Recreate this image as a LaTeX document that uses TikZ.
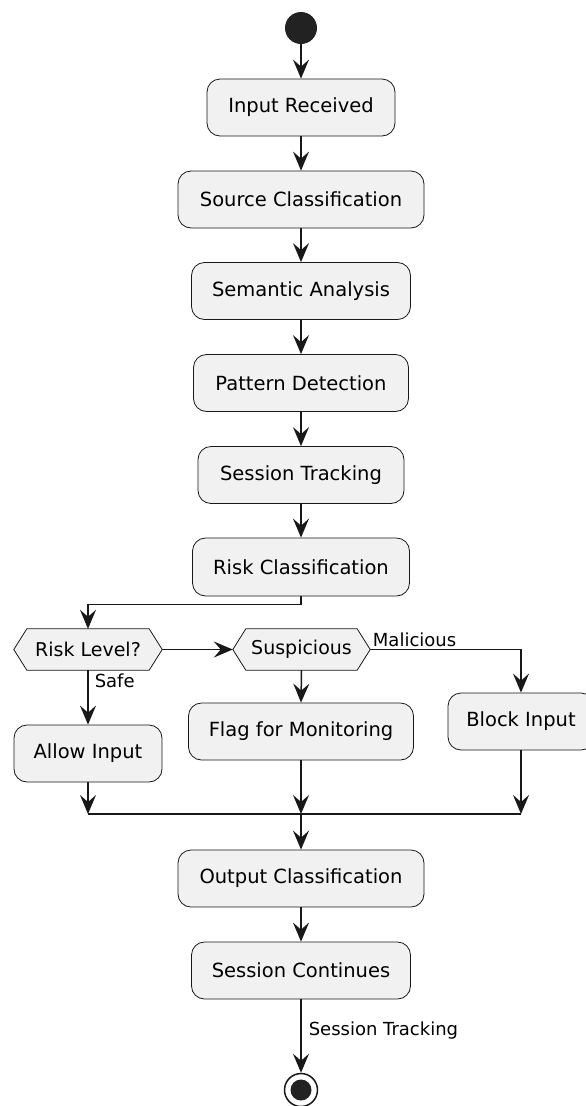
\documentclass[tikz,border=0pt]{standalone}
\usepackage{fontspec}
\setmainfont{DejaVu Sans}
\usetikzlibrary{arrows.meta,backgrounds}
\definecolor{boxfill}{HTML}{F1F1F1}
\definecolor{ink}{HTML}{181818}
\definecolor{dot}{HTML}{222222}
\tikzset{
  actbox/.style={draw=ink, line width=0.8pt, fill=boxfill, rounded corners=13pt,
    minimum height=57pt, inner xsep=4pt,
    font=\fontsize{19.5}{23}\selectfont},
  hexbox/.style={minimum height=41pt, inner sep=0pt,
    font=\fontsize{19}{22}\selectfont},
  hexline/.style={draw=ink, line width=0.8pt, fill=boxfill},
  flow/.style={draw=ink, line width=1.5pt,
    -{Stealth[length=19pt,width=16pt,inset=7pt]}},
  plain/.style={draw=ink, line width=1.5pt},
  lbl/.style={font=\fontsize{18}{21}\selectfont, inner sep=2pt},
}
\begin{document}
\begin{tikzpicture}[x=1pt,y=-1pt]
\useasboundingbox (0,0) rectangle (586,1106);

% start point
\node[circle, fill=dot, minimum size=32pt, inner sep=0pt] (start) at (301,28) {};

% main column of activities
\node[actbox, minimum width=188pt] (ir)   at (301,107.5) {Input Received};
\node[actbox, minimum width=246pt] (src)  at (301,199.5) {Source Classification};
\node[actbox, minimum width=219pt] (sem)  at (301,291)   {Semantic Analysis};
\node[actbox, minimum width=215pt] (pat)  at (301,383)   {Pattern Detection};
\node[actbox, minimum width=206pt] (sess) at (301,475)   {Session Tracking};
\node[actbox, minimum width=217pt, minimum height=58pt] (risk) at (301,567) {Risk Classification};

% decisions
\node[hexbox, minimum width=148pt] (rl)   at (88,649.5)  {Risk Level?};
\node[hexbox, minimum width=137pt] (susp) at (301.5,649.5) {Suspicious};
\begin{scope}[on background layer]
  \foreach \n in {rl,susp}
    \draw[hexline] (\n.west) -- ([xshift=13pt]\n.north west) -- ([xshift=-13pt]\n.north east)
      -- (\n.east) -- ([xshift=-13pt]\n.south east) -- ([xshift=13pt]\n.south west) -- cycle;
\end{scope}

% outcomes
\node[actbox, minimum width=148pt] (allow) at (88,753.5)  {Allow Input};
\node[actbox, minimum width=225pt] (flag)  at (301,731.5) {Flag for Monitoring};
\node[actbox, minimum width=146pt] (block) at (521,721.5) {Block Input};

% merge bar
\coordinate (m1) at (88,814);
\coordinate (m2) at (301,814);
\coordinate (m3) at (521,814);

% closing activities
\node[actbox, minimum width=246pt] (out)  at (301,878.5) {Output Classification};
\node[actbox, minimum width=219pt] (cont) at (301,970.5) {Session Continues};

% end point
\node[circle, draw=ink, line width=1.5pt, fill=white, minimum size=33pt, inner sep=0pt] (end) at (301,1090) {};
\node[circle, fill=dot, minimum size=21pt, inner sep=0pt] (endin) at (end.center) {};

% connectors
\draw[flow] (start) -- (ir);
\draw[flow] (ir) -- (src);
\draw[flow] (src) -- (sem);
\draw[flow] (sem) -- (pat);
\draw[flow] (pat) -- (sess);
\draw[flow] (sess) -- (risk);
\draw[flow] (risk.south) -- ([yshift=-8pt]risk.south) -| (rl.north);
\draw[flow] (rl.east) -- (susp.west);
\draw[flow] (rl.south) -- node[lbl, pos=0.2, anchor=west, xshift=4pt] {Safe} (allow.north);
\draw[flow] (susp.south) -- (flag.north);
\draw[flow] (susp.east) -- node[lbl, pos=0, anchor=south west] {Malicious} (susp.east -| block.north) -- (block.north);
\draw[flow] (allow.south) -- (m1);
\draw[flow] (flag.south) -- (m2);
\draw[flow] (block.south) -- (m3);
\draw[plain] (m1) -- (m3);
\draw[flow] (m2) -- (out.north);
\draw[flow] (out) -- (cont);
\draw[flow] (cont.south) -- node[lbl, pos=0.43, anchor=west, xshift=5pt] {Session Tracking} (end.north);
\end{tikzpicture}
\end{document}
